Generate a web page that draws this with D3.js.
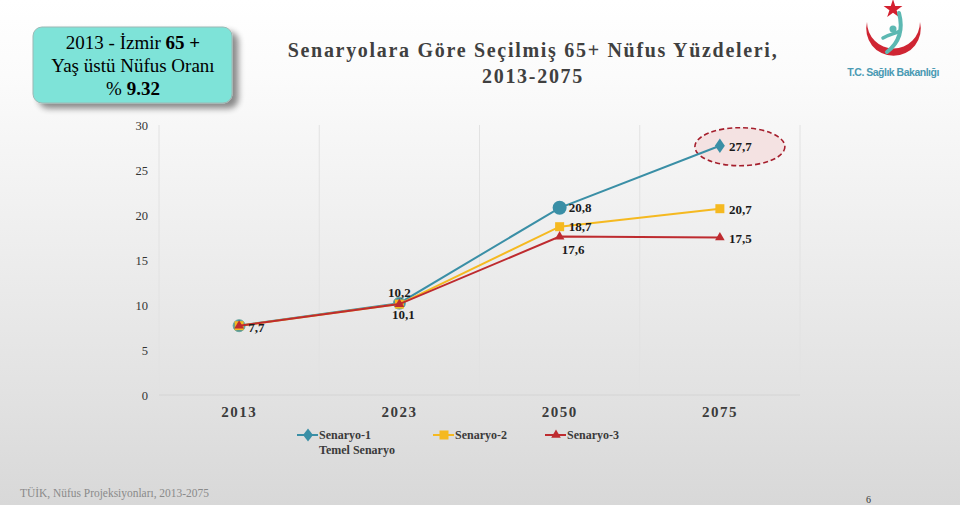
<!DOCTYPE html>
<html><head><meta charset="utf-8">
<script src="https://cdn.jsdelivr.net/npm/d3@7/dist/d3.min.js"></script>
<style>body{margin:0;padding:0;overflow:hidden}svg{display:block}</style>
</head><body>
<svg id="c" width="960" height="505"></svg>
<script>
const categories = ["2013", "2023", "2050", "2075"];
const seriesNames = ["Senaryo-1", "Senaryo-2", "Senaryo-3"];
const senaryo1 = [7.7, 10.2, 20.8, 27.7];
const senaryo2 = [7.7, 10.1, 18.7, 20.7];
const senaryo3 = [7.7, 10.1, 17.6, 17.5];
const yTicks = [0, 5, 10, 15, 20, 25, 30];
const titleLines = ["Senaryolara Göre Seçilmiş 65+ Nüfus Yüzdeleri,", "2013-2075"];
const source = "TÜİK, Nüfus Projeksiyonları, 2013-2075";

const SERIF = "'Liberation Serif', 'Times New Roman', serif";
const svg = d3.select("#c");
const W = 960, H = 505;
const defs = svg.append("defs");
const bg = defs.append("linearGradient").attr("id","bg").attr("x1",0).attr("y1",0).attr("x2",0).attr("y2",1);
bg.append("stop").attr("offset","0").attr("stop-color","#ffffff");
bg.append("stop").attr("offset","0.15").attr("stop-color","#fbfbfb");
bg.append("stop").attr("offset","0.8").attr("stop-color","#e1e1e1");
bg.append("stop").attr("offset","1").attr("stop-color","#d8d8d8");
svg.append("rect").attr("width",W).attr("height",H).attr("fill","url(#bg)");

const sh = defs.append("filter").attr("id","sh").attr("x","-20%").attr("y","-20%").attr("width","150%").attr("height","160%");
sh.append("feGaussianBlur").attr("in","SourceAlpha").attr("stdDeviation",3);
sh.append("feOffset").attr("dx",6).attr("dy",5).attr("result","ob");
sh.append("feComponentTransfer").append("feFuncA").attr("type","linear").attr("slope",0.45);
const mg = sh.append("feMerge"); mg.append("feMergeNode"); mg.append("feMergeNode").attr("in","SourceGraphic");

// Info box
const box = svg.append("g");
box.append("rect").attr("x",33).attr("y",27).attr("width",199).attr("height",76).attr("rx",9)
  .attr("fill","#7ee3d8").attr("stroke","#9bb8b4").attr("stroke-width",1).attr("filter","url(#sh)");
const bt = box.append("text").attr("font-family",SERIF).attr("font-size",19).attr("fill","#000").attr("text-anchor","middle");
const l1 = bt.append("tspan").attr("x",133).attr("y",49);
l1.append("tspan").text("2013 - İzmir ");
l1.append("tspan").attr("font-weight","bold").text("65 +");
bt.append("tspan").attr("x",133).attr("y",72).text("Yaş üstü Nüfus Oranı");
const l3 = bt.append("tspan").attr("x",133).attr("y",95);
l3.append("tspan").text("% ");
l3.append("tspan").attr("font-weight","bold").text("9.32");

// Title
svg.append("g").selectAll("text").data(titleLines).join("text")
  .attr("x",533).attr("y",(d,i)=>57+i*26).attr("text-anchor","middle")
  .attr("font-family",SERIF).attr("font-weight","bold")
  .attr("font-size",20).attr("letter-spacing",1.7).attr("fill","#404040").text(d=>d);

// Logo
const logo = svg.append("g");
const star = d3.symbol().type(d3.symbolStar).size(110);
logo.append("path").attr("d",star()).attr("transform","translate(893,9)").attr("fill","#d4202f");
logo.append("path").attr("fill","#cf2533")
  .attr("d","M867,22 A27.3,27.3 0 1 0 920,22 A26.5,26.5 0 1 1 867,22 Z");
logo.append("path").attr("fill","none").attr("stroke","#5cb8b2").attr("stroke-width",4).attr("stroke-linecap","round")
  .attr("d","M899,13 C903,28 900,42 887,52");
logo.append("path").attr("fill","none").attr("stroke","#5cb8b2").attr("stroke-width",3.5).attr("stroke-linecap","round")
  .attr("d","M883,38 C889,34 895,34 900,31");
logo.append("circle").attr("cx",893).attr("cy",29).attr("r",3.5).attr("fill","#5cb8b2");
logo.append("text").attr("x",893).attr("y",76).attr("text-anchor","middle")
  .attr("font-family","'Liberation Sans', Arial, sans-serif").attr("font-size",10.5).attr("font-weight","bold").attr("letter-spacing",-0.5)
  .attr("fill","#4a9ab3").text("T.C. Sağlık Bakanlığı");

// Chart
const m = {l:159, r:800, t:125, b:395};
const x = d3.scaleBand().domain(categories).range([m.l,m.r]);
const y = d3.scaleLinear().domain([0,30]).range([m.b,m.t]);
const cx = c => x(c) + x.bandwidth()/2;

const grid = svg.append("g");
grid.selectAll("line.v").data(categories.concat(["end"])).join("line")
  .attr("x1",(d,i)=>m.l+i*x.bandwidth()).attr("x2",(d,i)=>m.l+i*x.bandwidth())
  .attr("y1",m.t).attr("y2",m.b).attr("stroke","#e2e2e2").attr("stroke-width",1);
grid.append("line").attr("x1",m.l).attr("x2",m.r).attr("y1",m.b).attr("y2",m.b).attr("stroke","#d4d4d4");

const yAxis = svg.append("g").attr("transform",`translate(${m.l},0)`)
  .call(d3.axisLeft(y).tickValues(yTicks).tickSize(0).tickPadding(11));
yAxis.select(".domain").remove();
yAxis.attr("font-family",SERIF);
yAxis.selectAll("text").attr("font-family",SERIF).attr("font-size",12.5).attr("fill","#333");

const xAxis = svg.append("g").attr("transform",`translate(0,${m.b})`)
  .call(d3.axisBottom(x).tickSize(0).tickPadding(11));
xAxis.select(".domain").remove();
xAxis.attr("font-family",SERIF);
xAxis.selectAll("text").attr("font-family",SERIF).attr("font-size",15)
  .attr("font-weight","bold").attr("letter-spacing",1.5).attr("fill","#3b3b3b");

const colors = ["#3a8fa6", "#f5b920", "#be2b2f"];
const allSeries = [senaryo1, senaryo2, senaryo3];
const line = d3.line().x((d,i)=>cx(categories[i])).y(d=>y(d));

// Ellipse highlight
svg.append("ellipse").attr("cx",cx("2075")+20).attr("cy",y(senaryo1[3])+1).attr("rx",45).attr("ry",19)
  .attr("fill","#f3dede").attr("fill-opacity",0.85).attr("stroke","#a51e2c").attr("stroke-width",1.6).attr("stroke-dasharray","5,3");

const marker = (g, s, xx, yy, big) => {
  if (s===0) {
    if (big===2) g.append("circle").attr("cx",xx).attr("cy",yy).attr("r",7).attr("fill",colors[0]);
    else if (big===1) g.append("circle").attr("cx",xx).attr("cy",yy).attr("r",6).attr("fill",colors[0]).attr("stroke","#6aa7a0").attr("stroke-width",1);
    else g.append("path").attr("d",d3.symbol().type(d3.symbolDiamond).size(60)()).attr("transform",`translate(${xx},${yy}) scale(1.2,1)`).attr("fill",colors[0]);
  } else if (s===1) {
    g.append("rect").attr("x",xx-4.5).attr("y",yy-4.5).attr("width",9).attr("height",9).attr("fill",colors[1]);
  } else {
    g.append("path").attr("d",d3.symbol().type(d3.symbolTriangle).size(40)()).attr("transform",`translate(${xx},${yy})`).attr("fill",colors[2]);
  }
};

allSeries.forEach((vals,s)=>{
  const g = svg.append("g");
  g.append("path").datum(vals).attr("d",line).attr("fill","none").attr("stroke",colors[s]).attr("stroke-width",2);
  vals.forEach((v,i)=>{
    const big = s===0 ? (i===2 ? 2 : (i<2 ? 1 : 0)) : 0;
    marker(g, s, cx(categories[i]), y(v), big);
  });
});

// Data labels
const fmt = v => String(v).replace(".", ",");
const labels = [
  {v: senaryo1[0], c: 0, dx: 9, dy: 6, a: "start"},
  {v: senaryo1[1], c: 1, dx: 0, dy: -6, a: "middle"},
  {v: senaryo3[1], c: 1, dx: 4, dy: 15, a: "middle"},
  {v: senaryo1[2], c: 2, dx: 9, dy: 4, a: "start"},
  {v: senaryo2[2], c: 2, dx: 9, dy: 4, a: "start"},
  {v: senaryo3[2], c: 2, dx: 2, dy: 17, a: "start"},
  {v: senaryo1[3], c: 3, dx: 9, dy: 5, a: "start"},
  {v: senaryo2[3], c: 3, dx: 9, dy: 5, a: "start"},
  {v: senaryo3[3], c: 3, dx: 9, dy: 5, a: "start"}
];
svg.append("g").selectAll("text").data(labels).join("text")
  .attr("x",d=>cx(categories[d.c])+d.dx).attr("y",d=>y(d.v)+d.dy).attr("text-anchor",d=>d.a)
  .attr("font-family",SERIF).attr("font-weight","bold").attr("font-size",13)
  .attr("fill","#1a1a1a").text(d=>fmt(d.v));

// Legend
const leg = svg.append("g");
const legX = [297, 433, 545];
seriesNames.forEach((n,s)=>{
  const lx = legX[s], ly = 435;
  leg.append("line").attr("x1",lx).attr("x2",lx+21).attr("y1",ly).attr("y2",ly).attr("stroke",colors[s]).attr("stroke-width",2);
  if (s===0) leg.append("path").attr("d",d3.symbol().type(d3.symbolDiamond).size(50)()).attr("transform",`translate(${lx+11},${ly}) scale(1.3,1)`).attr("fill",colors[0]);
  else marker(leg, s, lx+11, ly, 0);
  leg.append("text").attr("x",lx+22).attr("y",ly+4).attr("font-family",SERIF)
    .attr("font-weight","bold").attr("font-size",12).attr("fill","#3a3a3a").text(n);
});
leg.append("text").attr("x",319).attr("y",454).attr("font-family",SERIF)
  .attr("font-weight","bold").attr("font-size",12).attr("fill","#3a3a3a").text("Temel Senaryo");

// Footer
svg.append("text").attr("x",20).attr("y",497).attr("font-family",SERIF)
  .attr("font-size",13).attr("fill","#8a8a8a").attr("transform","translate(20,497) scale(0.88,1) translate(-20,-497)").text(source);
svg.append("text").attr("x",866).attr("y",503).attr("font-family",SERIF)
  .attr("font-size",10).attr("fill","#333").text("6");
</script>
</body></html>
